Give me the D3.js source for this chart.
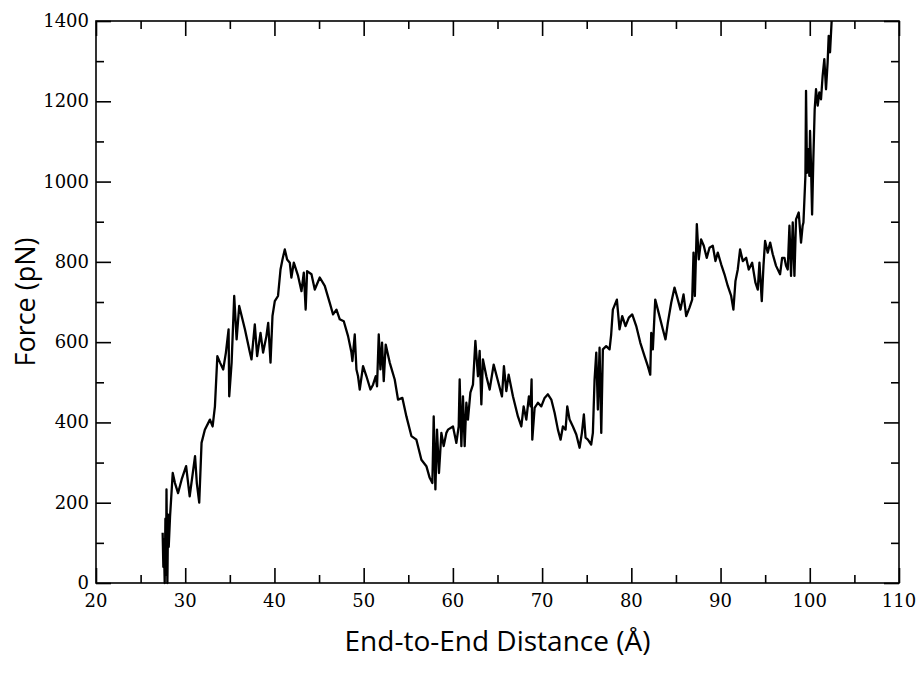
<!DOCTYPE html>
<html>
<head>
<meta charset="utf-8">
<script src="https://cdn.jsdelivr.net/npm/d3@7"></script>
<style>
  body { margin: 0; background: #fff; }
  svg { display: block; }
</style>
</head>
<body>
<svg id="chart" width="919" height="676"></svg>
<script>
// end-to-end distance (Å) and force (pN)
const distance = [
  27.47, 27.55, 27.6, 27.7, 27.78, 27.85, 27.9, 28.0, 28.08, 28.15, 28.3, 28.6, 28.85, 29.2, 29.6, 30.1, 30.5,
  31.1, 31.3, 31.57, 31.83, 32.2, 32.77, 33.07, 33.33, 33.6, 33.9, 34.26, 34.56, 34.86, 34.93,
  35.2, 35.49, 35.76, 36.05, 36.69, 37.25, 37.43, 37.8, 38.06, 38.44, 38.73, 39.1, 39.3, 39.56,
  39.78, 40.04, 40.4, 40.68, 40.9, 41.16, 41.42, 41.72, 41.9, 42.17, 42.65, 43.03, 43.29, 43.5,
  43.66, 44.15, 44.52, 45.08, 45.64, 46.2, 46.57, 46.95, 47.32, 47.77, 48.25, 48.63, 48.74, 49.0,
  49.19, 49.37, 49.56, 49.93, 50.31, 50.76, 51.05, 51.35, 51.5, 51.69, 51.88, 52.06, 52.25, 52.47,
  52.92, 53.48, 53.85, 54.34, 54.79, 55.35, 55.91, 56.47, 57.03, 57.4, 57.7, 57.85, 58.04, 58.22,
  58.44, 58.71, 58.97, 59.27, 59.45, 60.01, 60.39, 60.65, 60.76, 60.95, 61.13, 61.32, 61.51, 61.69,
  61.96, 62.25, 62.52, 62.81, 63.0, 63.19, 63.37, 63.75, 64.12, 64.57, 65.05, 65.5, 65.72, 65.99,
  66.25, 66.73, 67.29, 67.67, 67.93, 68.23, 68.52, 68.71, 68.82, 68.9, 69.16, 69.53, 69.91, 70.28,
  70.65, 71.03, 71.4, 71.77, 72.07, 72.33, 72.63, 72.82, 73.08, 73.45, 73.83, 74.2, 74.46, 74.68,
  74.87, 75.13, 75.5, 75.69, 75.88, 76.07, 76.25, 76.44, 76.63, 76.81, 77.18, 77.56, 77.74, 77.93,
  78.38, 78.68, 78.98, 79.35, 79.72, 80.1, 80.55, 81.0, 81.48, 81.85, 82.12, 82.23, 82.41, 82.68,
  82.97, 83.53, 83.83, 84.09, 84.47, 84.84, 85.21, 85.51, 85.85, 86.15, 86.52, 86.82, 86.97, 87.12,
  87.34, 87.56, 87.82, 88.12, 88.45, 88.76, 89.13, 89.43, 89.69, 90.07, 90.44, 90.81, 91.19, 91.44,
  91.67, 91.93, 92.19, 92.49, 92.87, 93.16, 93.54, 93.91, 94.17, 94.36, 94.62, 94.81, 94.99, 95.29,
  95.56, 95.85, 96.22, 96.67, 96.9, 97.16, 97.34, 97.53, 97.72, 97.9, 98.09, 98.28, 98.46, 98.76,
  99.02, 99.2, 99.29, 99.51, 99.58, 99.69, 99.84, 99.95, 100.03, 100.14, 100.26, 100.4, 100.55,
  100.7, 100.89, 101.07, 101.26, 101.44, 101.63, 101.82, 102.0, 102.12, 102.27, 102.45
];
const force = [
  125, 40, 110, 0, 160, 20, 233, 0, 170, 90, 166, 274, 249, 224, 258, 291, 216,
  316, 249, 200, 349, 382, 407, 390, 440, 565, 549, 532, 574, 632, 465,
  549, 715, 607, 690, 632, 574, 557, 644, 565, 623, 574, 615, 648, 549,
  665, 702, 715, 781, 806, 831, 806, 798, 761, 798, 765, 727, 773, 681,
  777, 769, 731, 761, 740, 698, 669, 681, 657, 652, 615, 574, 553, 619,
  532, 515, 482, 540, 515, 482, 494, 515, 490, 619, 532, 599, 503, 594,
  549, 507, 457, 461, 415, 366, 357, 307, 291, 262, 249, 415, 233, 382,
  274, 374, 341, 374, 382, 390, 349, 390, 507, 341, 465, 341, 449, 407,
  474, 494, 603, 515, 578, 445, 557, 515, 482, 544, 503, 465, 540, 478,
  519, 465, 415, 390, 440, 407, 465, 440, 507, 357, 436, 449, 440, 461,
  470, 457, 424, 382, 357, 390, 382, 440, 407, 390, 370, 337, 374, 420,
  362, 357, 345, 374, 507, 574, 432, 586, 374, 582, 590, 582, 619, 681,
  706, 632, 665, 640, 661, 669, 640, 599, 565, 540, 519, 623, 582, 706,
  681, 632, 607, 648, 698, 736, 706, 681, 719, 665, 686, 706, 823, 715,
  894, 806, 856, 840, 810, 835, 840, 802, 823, 794, 769, 740, 715, 681,
  752, 781, 831, 802, 810, 781, 798, 748, 731, 798, 702, 790, 852, 823,
  848, 819, 790, 769, 810, 810, 790, 781, 890, 765, 898, 765, 906, 923,
  848, 890, 898, 1014, 1226, 1022, 1081, 1014, 1126, 1039, 918, 1056, 1180,
  1230, 1189, 1222, 1205, 1263, 1305, 1230, 1297, 1363, 1322, 1400
];
const xTicks = [20, 30, 40, 50, 60, 70, 80, 90, 100, 110];
const yTicks = [0, 200, 400, 600, 800, 1000, 1200, 1400];
const xTitle = "End-to-End Distance (Å)";
const yTitle = "Force (pN)";

const svg = d3.select("#chart");
const margin = {left: 96, right: 20, top: 21, bottom: 93};
const w = 919 - margin.left - margin.right;
const h = 676 - margin.top - margin.bottom;

const x = d3.scaleLinear().domain([20, 110]).range([0, w]);
const y = d3.scaleLinear().domain([0, 1400]).range([h, 0]);

const g = svg.append("g").attr("transform", `translate(${margin.left},${margin.top})`);

// minor ticks (every 5 Å / 100 pN) and majors on all four sides, pointing inward
const xMinor = d3.range(25, 110, 10);
const yMinor = d3.range(100, 1400, 200);

function ticksOn(axisFn, scale, vals, len, tf) {
  g.append("g").attr("transform", tf)
    .call(axisFn(scale).tickValues(vals).tickSize(len).tickFormat(""))
    .call(a => a.select(".domain").remove())
    .selectAll("line").attr("stroke", "#000").attr("stroke-width", 1.6);
}
ticksOn(d3.axisTop, x, xMinor, 8, `translate(0,${h})`);
ticksOn(d3.axisTop, x, xTicks, 15, `translate(0,${h})`);
ticksOn(d3.axisBottom, x, xMinor, 8, "translate(0,0)");
ticksOn(d3.axisBottom, x, xTicks, 15, "translate(0,0)");
ticksOn(d3.axisRight, y, yMinor, 8, "translate(0,0)");
ticksOn(d3.axisRight, y, yTicks, 15, "translate(0,0)");
ticksOn(d3.axisLeft, y, yMinor, 8, `translate(${w},0)`);
ticksOn(d3.axisLeft, y, yTicks, 15, `translate(${w},0)`);

// frame
g.append("rect").attr("width", w).attr("height", h)
  .attr("fill", "none").attr("stroke", "#000").attr("stroke-width", 1.6);

// tick labels
g.selectAll(".xl").data(xTicks).join("text")
  .attr("x", d => x(d)).attr("y", h + 24)
  .attr("text-anchor", "middle")
  .style("font-family", "DejaVu Serif").style("font-size", "18px")
  .text(d => d);
g.selectAll(".yl").data(yTicks).join("text")
  .attr("x", -7).attr("y", d => y(d) + 6)
  .attr("text-anchor", "end")
  .style("font-family", "DejaVu Serif").style("font-size", "18px")
  .text(d => d);

// curve
const pts = distance.map((d, i) => [d, force[i]]);
const line = d3.line().x(d => x(d[0])).y(d => y(d[1]));
g.append("path").datum(pts)
  .attr("d", line)
  .attr("fill", "none").attr("stroke", "#000")
  .attr("stroke-width", 2.3).attr("stroke-linejoin", "round");

// axis titles
svg.append("text")
  .attr("x", margin.left + w / 2).attr("y", 651)
  .attr("text-anchor", "middle")
  .style("font-family", "Open Sans").style("font-size", "28px")
  .text(xTitle);
svg.append("text")
  .attr("transform", `translate(35,${margin.top + h / 2}) rotate(-90)`)
  .attr("text-anchor", "middle")
  .style("font-family", "Open Sans").style("font-size", "27px")
  .text(yTitle);
</script>
</body>
</html>
